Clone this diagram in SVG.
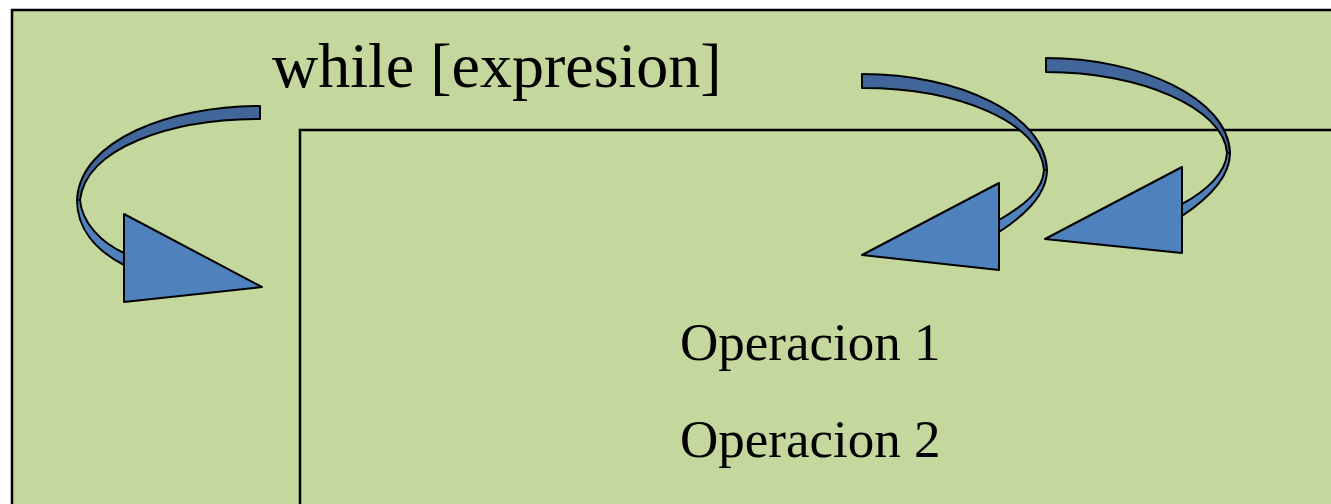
<svg xmlns="http://www.w3.org/2000/svg" width="1331" height="504" viewBox="0 0 1331 504">
<style>
.frame{fill:#C4D79C;stroke:#000;stroke-width:2.5}
.inner{fill:none;stroke:#000;stroke-width:2.5}
.dark{fill:#41679A;stroke:#000;stroke-width:2;stroke-linejoin:round}
.light{fill:#4F81BD;stroke:#000;stroke-width:2;stroke-linejoin:round}
.t{font-family:"Liberation Serif","Times New Roman",serif;fill:#000}
</style>
<rect width="1331" height="504" fill="#fff"/>
<g id="outer">
<rect class="frame" x="12" y="10" width="1400" height="600"/>
</g>
<g id="inner">
<rect class="inner" x="300" y="130" width="1200" height="500"/>
</g>
<g id="title">
<text class="t" x="272" y="87" font-size="64">while [expresion]</text>
</g>
<g id="ops">
<text class="t" x="680" y="360" font-size="53">Operacion 1</text>
<text class="t" x="680" y="457" font-size="53">Operacion 2</text>
</g>
<g id="connectors">
<g id="arrow-left">
<path class="dark" d="M260,106 C170,106 80,140 77,200 L80,200 C86,148 170,119 260,119 Z"/>
<path class="light" d="M77,200 C77,228 95,250 124,265 L124,253 C100,242 82,222 80,200 Z"/>
<path class="light" d="M124,214 L124,302 L262,287 Z"/>
</g>
<g id="arrow-mid">
<path class="dark" d="M862,74 C960,74 1045,115 1047,170 L1044,170 C1040,123 960,88 862,88 Z"/>
<path class="light" d="M1047,170 C1047,192 1030,212 999,232 L999,220 C1025,205 1043,190 1044,170 Z"/>
<path class="light" d="M999,183 L999,270 L862,255 Z"/>
</g>
<g id="arrow-right">
<path class="dark" d="M1046,58 C1140,58 1228,98 1230,153 L1227,153 C1224,108 1140,72 1046,72 Z"/>
<path class="light" d="M1230,153 C1230,175 1212,196 1182,216 L1182,204 C1208,190 1226,172 1227,153 Z"/>
<path class="light" d="M1182,167 L1182,253 L1045,239 Z"/>
</g>
</g>
</svg>
